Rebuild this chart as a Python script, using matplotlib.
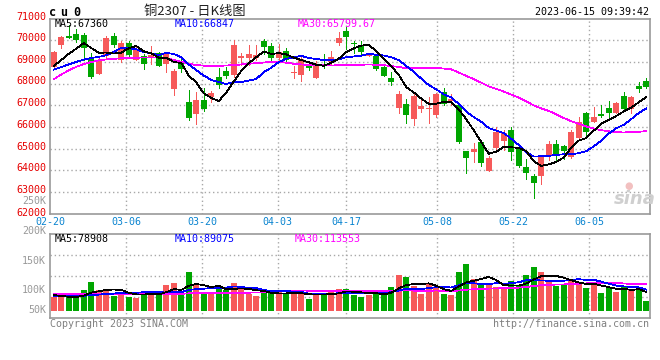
import matplotlib
matplotlib.use("Agg")
import matplotlib.pyplot as plt
import numpy as np

# ---------------- data ----------------
date_labels = ["02-20", "03-06", "03-20", "04-03", "04-17", "05-08", "05-22", "06-05"]
date_index = [0, 10, 20, 30, 39, 51, 61, 71]

opens = [68777, 69777, 70190, 70285, 70240, 69193, 68439, 69285, 70192, 69085,
         69854, 69085, 69254, 69193, 69393, 68885, 67747, 68962, 67132, 66594,
         67239, 67362, 68285, 68577, 68393, 69162, 69162, 69162, 69977, 69746,
         69162, 69516, 68500, 68393, 68854, 68270, 68900, 68977, 69885, 70423,
         69854, 69731, 69285, 69285, 68777, 68270, 66854, 67054, 66362, 66824,
         66824, 66547, 67593, 67193, 67008, 64885, 64854, 65316, 63977, 65008,
         65362, 65855, 65008, 64131, 63733, 63748, 64701, 65209, 65117, 64624,
         65471, 66655, 66240, 66593, 66855, 66655, 67424, 66824, 67885, 68131]
closes = [69454, 70162, 70100, 70008, 69623, 68300, 69085, 70115, 69777, 69854,
          69316, 69593, 68885, 69316, 68824, 69347, 68593, 68670, 66394, 67239,
          66824, 67547, 67950, 68347, 69777, 69270, 69362, 69316, 69670, 69193,
          69470, 69085, 68546, 69116, 68700, 68885, 68854, 69223, 70085, 70162,
          69808, 69470, 69393, 68670, 68362, 68085, 67500, 66547, 67439, 66962,
          66854, 67516, 67054, 67285, 65316, 64577, 64977, 64347, 64577, 65778,
          65731, 64855, 64193, 63856, 63425, 64655, 65209, 64747, 64901, 65748,
          66240, 65778, 66440, 66517, 66655, 67116, 66809, 67362, 67731, 67824]
highs = [69480, 70200, 70700, 70515, 70315, 69393, 69162, 70208, 70315, 69977,
         69977, 69746, 69362, 69731, 69470, 69424, 68650, 69162, 67700, 67600,
         67808, 67670, 68700, 68777, 70008, 69420, 69777, 69777, 70060, 69854,
         69823, 69623, 68808, 69208, 69039, 69054, 69362, 69516, 70363, 70622,
         69977, 69977, 69424, 69362, 68885, 68546, 67670, 67285, 67593, 67362,
         67362, 67547, 67778, 67516, 67116, 64885, 65240, 65393, 64655, 65978,
         65855, 66008, 65085, 64516, 63825, 64700, 65362, 65390, 65160, 65855,
         66470, 66700, 66900, 67000, 67180, 67160, 67590, 67424, 68050, 68270]
lows = [68750, 69654, 70080, 69931, 69085, 68270, 68439, 69162, 69670, 69008,
        69239, 69085, 68685, 68916, 68800, 68547, 67470, 68547, 66317, 66132,
        66747, 67132, 67777, 68239, 68316, 68850, 68854, 69100, 69380, 69008,
        69070, 68977, 68270, 68131, 68624, 68270, 68731, 68854, 69777, 69593,
        69400, 69362, 69270, 68624, 68360, 67930, 66624, 66193, 66085, 66700,
        66193, 66470, 67008, 67008, 65240, 63885, 64393, 64193, 63977, 64931,
        64931, 64470, 64131, 63578, 62702, 63364, 64471, 64470, 64500, 64550,
        65440, 65580, 66210, 66440, 66440, 66620, 66750, 66620, 67590, 67800]

# moving-average values before a full window exists
ma5_head = [68815, 69080, 69370, 69610]
ma10_head = [68640, 68760, 68880, 69000, 69100, 69180, 69230, 69300, 69460]
ma30_head = [68194, 68420, 68600, 68770, 68900, 68990, 69070, 69110, 69140, 69160,
             69175, 69190, 69200, 69200, 69200, 69180, 69080, 69000, 68910, 68850,
             68825, 68815, 68815, 68830, 68850, 68880, 68910, 68940, 68970]

# volume in thousands
volumes = [60.2, 60.2, 57.4, 57.4, 88.2, 123.2, 88.2, 88.2, 63.0, 81.2,
           60.2, 56.0, 84.0, 79.8, 67.2, 109.2, 119.0, 67.2, 163.8, 109.2,
           81.2, 81.2, 95.2, 88.2, 119.0, 91.0, 71.4, 64.4, 78.4, 74.2,
           81.2, 71.4, 74.2, 74.2, 50.4, 74.2, 74.2, 78.4, 92.4, 92.4,
           67.2, 60.2, 67.2, 88.2, 67.2, 99.4, 151.2, 141.4, 105.0, 71.4,
           112.0, 99.4, 71.4, 67.2, 165.2, 197.4, 134.4, 109.2, 109.2, 99.4,
           91.0, 126.0, 109.2, 151.2, 183.4, 165.2, 130.2, 106.4, 112.0, 134.4,
           116.2, 98.0, 112.0, 74.2, 99.4, 81.2, 99.4, 88.2, 91.0, 42.0]
vma5_head = [67, 63, 60, 59]
vma10_head = [63, 63, 63, 63, 64, 66, 69, 71, 73]
vma30_head = [70, 70, 70, 70, 70, 70, 70, 70, 70, 70,
              70, 70, 70, 70, 70, 70, 71, 72, 74, 74,
              74, 75, 75, 76, 76, 77, 77, 78, 78]

y_tick_values = [62000, 63000, 64000, 65000, 66000, 67000, 68000, 69000, 70000, 71000]
vol_label_texts = ["250K", "200K", "150K", "100K", "50K"]


def moving_average(vals, n, head):
    out = list(head)
    for i in range(len(head), len(vals)):
        out.append(float(np.mean(vals[i - n + 1:i + 1])))
    return out


ma5 = moving_average(closes, 5, ma5_head)
ma10 = moving_average(closes, 10, ma10_head)
ma30 = moving_average(closes, 30, ma30_head)
vma5 = moving_average(volumes, 5, vma5_head)
vma10 = moving_average(volumes, 10, vma10_head)
vma30 = moving_average(volumes, 30, vma30_head)

# ---------------- style ----------------
RED = "#f65a5a"
GREEN = "#00a600"
GRID = "#a8a8a8"
SPINE = "#999999"
MONO = "DejaVu Sans Mono"
FS = 7.2
LW = 0.55
W, H = 660, 360


def fx(x):
    return x / W


def fy(y):
    return 1 - y / H


fig = plt.figure(figsize=(W / 100, H / 100), dpi=100)
fig.patch.set_facecolor("white")

ax = fig.add_axes([fx(50), fy(213.5), 600 / W, 195 / H])
axv = fig.add_axes([fx(50), fy(318), 600 / W, (318 - 234.3) / H])

n = len(closes)
xs = np.arange(n)
o = np.array(opens, float)
c = np.array(closes, float)
cols = [RED if cc >= oo else GREEN for oo, cc in zip(o, c)]
grid_x = [d * n / (n - 1) - 0.5 for d in date_index]

for a in (ax, axv):
    a.set_xlim(-0.5, n - 0.5)
    for s in a.spines.values():
        s.set_color(SPINE)
        s.set_linewidth(1.2)
    a.tick_params(length=0, labelleft=False, labelbottom=False)
    a.set_xticks([])
    for gx in grid_x[1:]:
        a.axvline(gx, color=GRID, ls=(0, (1, 2)), lw=1, zorder=0)

# price panel
ax.set_ylim(62000, 71000)
ax.set_yticks(y_tick_values[1:-1])
ax.grid(axis="y", color=GRID, ls=(0, (1, 2)), lw=1, zorder=0)
ax.vlines(xs, lows, highs, colors=cols, lw=LW, zorder=2, antialiased=False)
bottoms = np.minimum(o, c)
heights = np.maximum(np.abs(c - o), 46)
ax.bar(xs, heights, bottom=bottoms, width=0.8, color=cols, linewidth=0,
       zorder=3, antialiased=False)
ax.plot(xs, ma30, color="#ff00ff", lw=LW, zorder=4, antialiased=False)
ax.plot(xs, ma10, color="#0000ff", lw=LW, zorder=5, antialiased=False)
ax.plot(xs, ma5, color="black", lw=LW, zorder=6, antialiased=False)

for v in y_tick_values:
    ax.annotate(str(v), xy=(0, v), xycoords=("axes fraction", "data"),
                xytext=(-4, 2 if v > 62000 else 0), textcoords="offset pixels",
                ha="right", va="center", color="#e60000", fontsize=FS,
                family=MONO, annotation_clip=False)
for gx, lab in zip(grid_x, date_labels):
    ax.annotate(lab, xy=(gx, 0), xycoords=("data", "axes fraction"),
                xytext=(0, -8.5), textcoords="offset pixels", ha="center",
                va="center", color="#0a84d0", fontsize=FS, family=MONO,
                annotation_clip=False)

# volume panel
vlo, vhi = -29.4, 322.1
axv.set_ylim(vlo, vhi)
axv.set_yticks([vlo + (vhi - vlo) * k / 4 for k in (1, 2, 3)])
axv.grid(axis="y", color=GRID, ls=(0, (1, 2)), lw=1, zorder=0)
axv.bar(xs, volumes, width=0.8, color=cols, linewidth=0, zorder=3, antialiased=False)
axv.plot(xs, vma30, color="#ff00ff", lw=LW, zorder=4, antialiased=False)
axv.plot(xs, vma10, color="#0000ff", lw=LW, zorder=5, antialiased=False)
axv.plot(xs, vma5, color="black", lw=LW, zorder=6, antialiased=False)

for lab, yy in zip(vol_label_texts, [200.7, 230.7, 261, 290, 310]):
    fig.text(fx(46), fy(yy), lab, ha="right", va="center", color="#999999",
             fontsize=FS, family=MONO)

# headers
for ch, xx in zip("cu0", [52.5, 63.5, 76.5]):
    fig.text(fx(xx), fy(12), ch, ha="center", va="center", fontsize=8.5,
             weight="bold", family=MONO, color="black")
fig.text(fx(195), fy(11.5), "铜2307 - 日K线图", ha="center", va="center",
         fontsize=9.5, family=["Noto Sans CJK SC", "DejaVu Sans"], color="#222222")
fig.text(fx(649), fy(11.7), "2023-06-15 09:39:42", ha="right", va="center",
         fontsize=FS, family=MONO, color="black")

fig.text(fx(54.3), fy(24), "MA5:67360", ha="left", va="center", fontsize=FS,
         family=MONO, color="black")
fig.text(fx(174.3), fy(24), "MA10:66847", ha="left", va="center", fontsize=FS,
         family=MONO, color="#0000ff")
fig.text(fx(297.7), fy(24), "MA30:65799.67", ha="left", va="center", fontsize=FS,
         family=MONO, color="#ff00ff")

fig.text(fx(54.7), fy(238.5), "MA5:78908", ha="left", va="center", fontsize=FS,
         family=MONO, color="black")
fig.text(fx(174.7), fy(238.5), "MA10:89075", ha="left", va="center", fontsize=FS,
         family=MONO, color="#0000ff")
fig.text(fx(294.7), fy(238.5), "MA30:113553", ha="left", va="center", fontsize=FS,
         family=MONO, color="#ff00ff")

fig.text(fx(50), fy(324), "Copyright 2023 SINA.COM", ha="left", va="center",
         fontsize=FS, family=MONO, color="#808080")
fig.text(fx(649), fy(324), "http://finance.sina.com.cn", ha="right", va="center",
         fontsize=FS, family=MONO, color="#808080")

# watermark
fig.text(fx(635), fy(199), "sina", ha="center", va="center", fontsize=13,
         weight="bold", style="italic", color="#cfcfcf", family="DejaVu Sans")
fig.text(fx(629), fy(186), "●", ha="center", va="center", fontsize=7,
         color="#f2c0c0", family="DejaVu Sans")

fig.savefig("out.png", dpi=100, facecolor="white")
